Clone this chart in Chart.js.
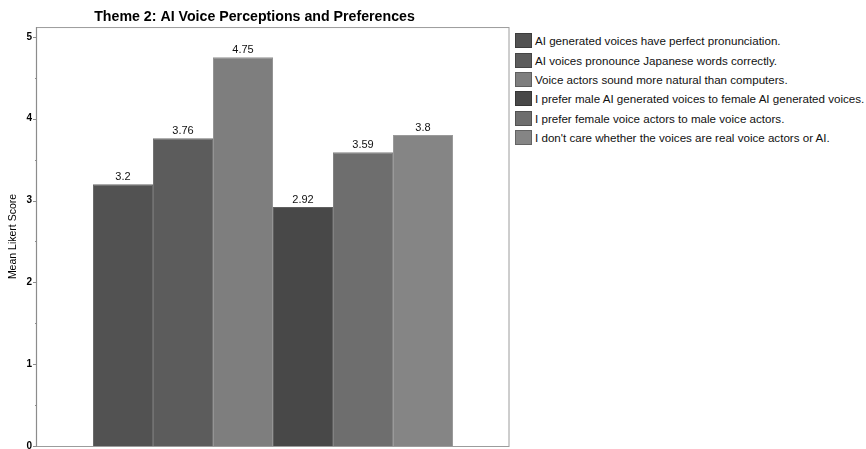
<!DOCTYPE html>
<html>
<head>
<meta charset="utf-8">
<title>Theme 2: AI Voice Perceptions and Preferences</title>
<script src="https://cdn.jsdelivr.net/npm/chart.js@4/dist/chart.umd.min.js"></script>
<style>
  html, body { margin: 0; padding: 0; background: #fff; }
  #wrap { position: relative; width: 866px; height: 449px; overflow: hidden; }
  #plot { position: absolute; left: 0; top: 0; width: 512px; height: 449px; }
  #legend {
    position: absolute; left: 515px; top: 31px;
    font: 11.6px "Liberation Sans", Arial, Helvetica, sans-serif; color: #111;
  }
  #legend .item { display: flex; align-items: center; height: 19.4px; white-space: nowrap; }
  #legend .sw { width: 17px; height: 15px; margin-right: 3px; box-sizing: border-box; border: 1px solid rgba(0,0,0,0.25); }
</style>
</head>
<body>
<div id="wrap">
  <div id="plot"><canvas id="chart"></canvas></div>
  <div id="legend"></div>
</div>
<script>
// Survey statements (one bar each) and their mean Likert scores
const categories = ['Theme 2'];
const statements = [
  'AI generated voices have perfect pronunciation.',
  'AI voices pronounce Japanese words correctly.',
  'Voice actors sound more natural than computers.',
  'I prefer male AI generated voices to female AI generated voices.',
  'I prefer female voice actors to male voice actors.',
  "I don't care whether the voices are real voice actors or AI."
];
const meanScores = [3.2, 3.76, 4.75, 2.92, 3.59, 3.8];
const yTickValues = [0, 0.5, 1, 1.5, 2, 2.5, 3, 3.5, 4, 4.5, 5];
const yTickLabels = ['0', '1', '2', '3', '4', '5'];

// Grey shades for the bars, in statement order
const barColors = ['#525252', '#5c5c5c', '#7e7e7e', '#484848', '#6e6e6e', '#858585'];
const edgeColors = ['#6a6a6a', '#727272', '#949494', '#606060', '#838383', '#9a9a9a'];

const FONT = '"Liberation Sans", Arial, Helvetica, sans-serif';

const datasets = statements.map((s, i) => ({
  label: s,
  data: [meanScores[i]],
  backgroundColor: barColors[i],
  borderColor: edgeColors[i],
  borderWidth: 1,
  categoryPercentage: 0.7627,
  barPercentage: 1.0
}));

// Frame around the plot area plus major/minor y ticks
const framePlugin = {
  id: 'frame',
  afterDraw(chart) {
    const { ctx, chartArea: a, scales: { y } } = chart;
    ctx.save();
    ctx.strokeStyle = '#9c9c9c';
    ctx.lineWidth = 1;
    ctx.strokeRect(a.left - 0.5, a.top + 0.5, a.right - a.left + 0.5, a.bottom - a.top);
    ctx.strokeStyle = '#8c8c8c';
    ctx.lineWidth = 1.2;
    ctx.beginPath();
    ctx.moveTo(a.left - 0.5, a.top);
    ctx.lineTo(a.left - 0.5, a.bottom);
    y.ticks.forEach(t => {
      const py = Math.round(y.getPixelForValue(t.value)) + 0.5;
      const len = Number.isInteger(t.value) ? 4 : 2;
      ctx.moveTo(a.left - len, py);
      ctx.lineTo(a.left, py);
    });
    ctx.stroke();
    ctx.restore();
  }
};

// Value labels above each bar
const valueLabels = {
  id: 'valueLabels',
  afterDatasetsDraw(chart) {
    const { ctx } = chart;
    ctx.save();
    ctx.font = '11px ' + FONT;
    ctx.fillStyle = '#111';
    ctx.textAlign = 'center';
    ctx.textBaseline = 'bottom';
    chart.data.datasets.forEach((ds, i) => {
      const bar = chart.getDatasetMeta(i).data[0];
      ctx.fillText(String(ds.data[0]), bar.x, bar.y - 1.5);
    });
    ctx.restore();
  }
};

const chart = new Chart(document.getElementById('chart'), {
  type: 'bar',
  data: { labels: categories, datasets },
  options: {
    responsive: true,
    maintainAspectRatio: false,
    animation: false,
    layout: { padding: { left: 0, right: 3, top: 0, bottom: 3 } },
    plugins: {
      legend: { display: false },
      tooltip: { enabled: false },
      title: {
        display: true,
        text: 'Theme 2: AI Voice Perceptions and Preferences',
        color: '#000',
        font: { family: FONT, size: 14.2, weight: 'bold', lineHeight: 1.2 },
        padding: { top: 9, bottom: 1 }
      }
    },
    scales: {
      x: { display: false },
      y: {
        min: 0,
        max: 5.12,
        border: { display: false },
        grid: { display: false, drawTicks: false },
        afterBuildTicks(scale) {
          scale.ticks = yTickValues.map(v => ({ value: v }));
        },
        ticks: {
          padding: 5,
          autoSkip: false,
          color: '#000',
          font: { family: FONT, size: 10, weight: 'bold' },
          callback: v => Number.isInteger(v) ? yTickLabels[v] : ''
        },
        title: {
          display: true,
          text: 'Mean Likert Score',
          color: '#000',
          font: { family: FONT, size: 10.5 },
          padding: { top: 7, bottom: 0 }
        },
        afterFit(scale) {
          scale.width = 37;
          scale.paddingTop = 0;
          scale.paddingBottom = 0;
        }
      }
    }
  },
  plugins: [framePlugin, valueLabels]
});

// Legend beside the plot, built from the same statements and colours
const legend = document.getElementById('legend');
statements.forEach((s, i) => {
  const row = document.createElement('div');
  row.className = 'item';
  const sw = document.createElement('span');
  sw.className = 'sw';
  sw.style.background = barColors[i];
  const tx = document.createElement('span');
  tx.textContent = s;
  row.appendChild(sw);
  row.appendChild(tx);
  legend.appendChild(row);
});
</script>
</body>
</html>
